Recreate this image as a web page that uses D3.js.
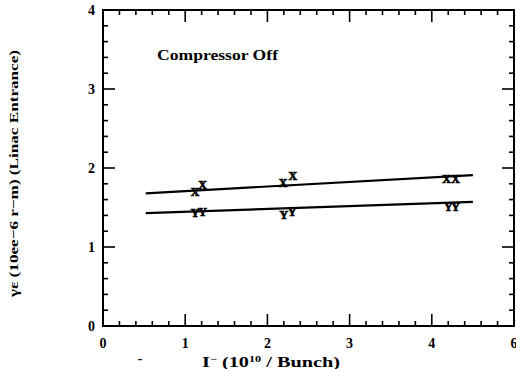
<!DOCTYPE html>
<html><head><meta charset="utf-8">
<script src="https://cdn.jsdelivr.net/npm/d3@7"></script>
<style>body{margin:0;background:#fff}svg{display:block}</style>
</head><body><svg id="c" width="516" height="369"></svg>
<script>
const xTicks = [0,1,2,3,4,5];
const xTickLabels = ["0","1","2","3","4","6"];
const yTicks = [0,1,2,3,4];
const yTickLabels = ["0","1","2","3","4"];
// X-plane emittance points
const xSeriesX = [1.12,1.21,2.19,2.31,4.18,4.29];
const xSeriesY = [1.70,1.78,1.81,1.90,1.86,1.86];
// Y-plane emittance points
const ySeriesX = [1.12,1.21,2.20,2.30,4.20,4.29];
const ySeriesY = [1.43,1.44,1.40,1.44,1.51,1.51];
// fitted lines
const fitX = [[0.52,1.68],[4.5,1.91]];
const fitY = [[0.52,1.43],[4.5,1.57]];

const svg = d3.select("#c");
const L=103, R=514, T=10, B=326;
const x = d3.scaleLinear().domain([0,5]).range([L,R]);
const y = d3.scaleLinear().domain([0,4]).range([B,T]);
const font = "'Liberation Serif', serif";

// frame
svg.append("rect").attr("x",L).attr("y",T).attr("width",R-L).attr("height",B-T)
  .attr("fill","none").attr("stroke","#000").attr("stroke-width",2);

const xMinor = d3.range(0,5.0001,0.2);
const yMinor = d3.range(0,4.0001,0.2);
const g = svg.append("g").attr("stroke","#000").attr("stroke-width",1.6);
xMinor.forEach(v=>{
  const major = Math.abs(v-Math.round(v))<1e-6;
  const len = major?12:5;
  g.append("line").attr("x1",x(v)).attr("x2",x(v)).attr("y1",B).attr("y2",B-len);
  g.append("line").attr("x1",x(v)).attr("x2",x(v)).attr("y1",T).attr("y2",T+len);
});
yMinor.forEach(v=>{
  const major = Math.abs(v-Math.round(v))<1e-6;
  const len = major?12:5;
  g.append("line").attr("y1",y(v)).attr("y2",y(v)).attr("x1",L).attr("x2",L+len);
  g.append("line").attr("y1",y(v)).attr("y2",y(v)).attr("x1",R).attr("x2",R-len);
});

// tick labels
svg.append("g").selectAll("text").data(xTicks).join("text")
  .attr("x",d=>x(d)).attr("y",348).attr("text-anchor","middle")
  .attr("font-family",font).attr("font-weight","bold").attr("font-size",14)
  .text((d,i)=>xTickLabels[i]);
svg.append("g").selectAll("text").data(yTicks).join("text")
  .attr("x",95).attr("y",d=>y(d)+5).attr("text-anchor","end")
  .attr("font-family",font).attr("font-weight","bold").attr("font-size",14)
  .text((d,i)=>yTickLabels[i]);

// fit lines
const line = d3.line().x(d=>x(d[0])).y(d=>y(d[1]));
[fitX,fitY].forEach(f=>svg.append("path").attr("d",line(f)).attr("fill","none")
  .attr("stroke","#000").attr("stroke-width",2.2));

// markers
function markers(xs,ys,ch){
  svg.append("g").selectAll("text").data(xs).join("text")
    .attr("x",d=>x(d)).attr("y",(d,i)=>y(ys[i])+4).attr("text-anchor","middle")
    .attr("font-family",font).attr("font-weight","bold").attr("font-size",12)
    .attr("stroke","#000").attr("stroke-width",0.7)
    .text(ch);
}
markers(xSeriesX,xSeriesY,"X");
markers(ySeriesX,ySeriesY,"Y");

// annotation
svg.append("text").attr("x",157).attr("y",60).attr("font-family",font)
  .attr("font-weight","bold").attr("font-size",14).attr("textLength",121)
  .attr("lengthAdjust","spacingAndGlyphs").text("Compressor Off");

// x label
svg.append("text").attr("x",140).attr("y",363).attr("text-anchor","middle")
  .attr("font-family",font).attr("font-weight","bold").attr("font-size",14).text("-");
const xl = svg.append("text").attr("x",202).attr("y",367).attr("font-family",font)
  .attr("font-weight","bold").attr("font-size",15)
  .attr("textLength",138).attr("lengthAdjust","spacingAndGlyphs");
xl.append("tspan").text("I");
xl.append("tspan").attr("dy",-5).attr("font-size",9).text("−");
xl.append("tspan").attr("dy",5).text(" (10");
xl.append("tspan").attr("dy",-5).attr("font-size",9).text("10");
xl.append("tspan").attr("dy",5).text(" / Bunch)");

// y label
svg.append("text").attr("transform","translate(18,297) rotate(-90)")
  .attr("font-family",font).attr("font-weight","bold").attr("font-size",13)
  .attr("textLength",247).attr("lengthAdjust","spacingAndGlyphs")
  .text("γε   (10ee−6 r−m) (Linac Entrance)");
</script></body></html>
